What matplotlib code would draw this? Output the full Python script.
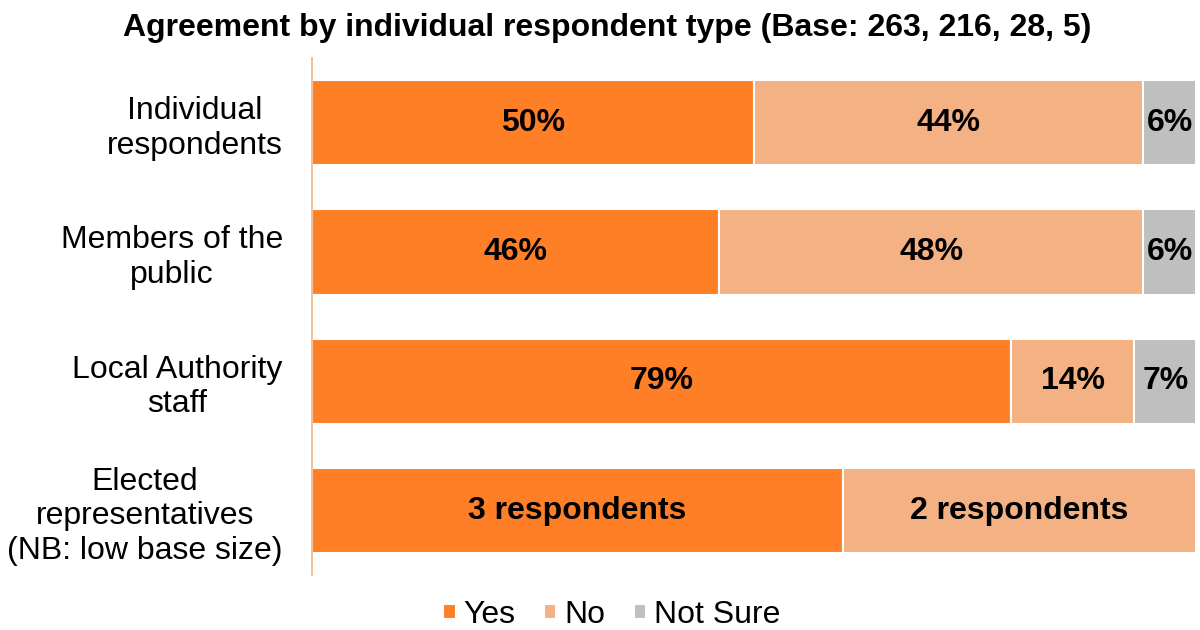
import numpy as np
import matplotlib
matplotlib.use('Agg')  # noqa
import matplotlib.pyplot as plt

plt.rcParams['font.family'] = ['Liberation Sans', 'DejaVu Sans']

categories = ['Individual\nrespondents', 'Members of the\npublic',
              'Local Authority\nstaff',
              'Elected\nrepresentatives\n(NB: low base size)']
yes = [50, 46, 79, 60]
no = [44, 48, 14, 40]
not_sure = [6, 6, 7, 0]
yes_labels = ['50%', '46%', '79%', '3 respondents']
no_labels = ['44%', '48%', '14%', '2 respondents']
ns_labels = ['6%', '6%', '7%', '']
series_names = ['Yes', 'No', 'Not Sure']
colors = ['#FF7F27', '#F4B183', '#BFBFBF']

fig = plt.figure(figsize=(12, 6.3), dpi=100)
ax = fig.add_axes([0.26, 0.087, 0.737, 0.821])

y = np.arange(len(categories))
left = np.zeros(len(categories))
for vals, labels, name, col in zip([yes, no, not_sure],
                                   [yes_labels, no_labels, ns_labels],
                                   series_names, colors):
    bars = ax.barh(y, vals, left=left, height=0.66, color=col,
                   edgecolor='white', linewidth=1.5, label=name)
    ax.bar_label(bars, labels=labels, label_type='center',
                 fontsize=23, fontweight='bold', color='black')
    left += np.array(vals)

ax.set_xlim(0, 100)
ax.set_ylim(3.5, -0.5)
ax.set_yticks(y)
ax.set_yticklabels(categories, fontsize=23, linespacing=1.2,
                   multialignment='center')
ax.tick_params(axis='y', length=0, pad=21)
ax.set_xticks([])
for s in ['top', 'right', 'bottom']:
    ax.spines[s].set_visible(False)
ax.spines['left'].set_color('#F4B183')
ax.spines['left'].set_linewidth(1.2)

fig.text(0.506, 0.955, 'Agreement by individual respondent type (Base: 263, 216, 28, 5)',
         ha='center', va='center', fontsize=23, fontweight='bold')

fig.legend(loc='center', bbox_to_anchor=(0.51, 0.024), ncol=3, frameon=False,
           fontsize=23, handlelength=0.38, handleheight=0.38,
           handletextpad=0.25, columnspacing=0.9)

plt.savefig('out.png', dpi=100)
